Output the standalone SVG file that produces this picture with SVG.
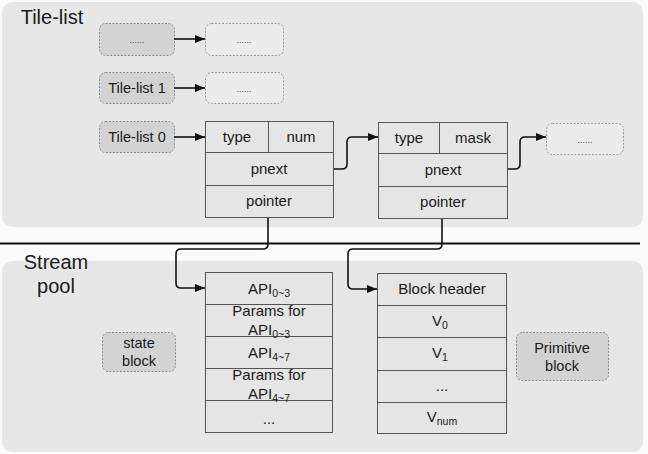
<svg xmlns="http://www.w3.org/2000/svg" width="648" height="454" viewBox="0 0 648 454">
<style>
text{font-family:"Liberation Sans",Arial,sans-serif;fill:#1a1a1a;text-anchor:middle}
.t{font-size:15px}
.n{font-size:14.5px}
.d{font-size:9px;fill:#444}
.sub{font-size:10.5px}
.title{font-size:20px}
.panel{fill:#e7e7e7}
.gnode{fill:#d3d3d3;stroke:#8a8a8a;stroke-width:1;stroke-dasharray:2 1.5}
.wnode{fill:#ececec;stroke:#9a9a9a;stroke-width:1;stroke-dasharray:2 1.5}
.cell{fill:#e5e5e5;stroke:#555;stroke-width:1}
.line{fill:none;stroke:#555;stroke-width:1}
.conn{fill:none;stroke:#111;stroke-width:1.6}
</style>
<defs>
<marker id="ah" markerWidth="10" markerHeight="8" refX="10" refY="4" orient="auto" markerUnits="userSpaceOnUse">
<path d="M0,0 L10,4 L0,8 z" fill="#111"/>
</marker>
</defs>
<rect width="648" height="454" fill="#fbfbfb"/>
<g id="tile-list-panel">
<rect class="panel" x="2" y="2" width="641" height="225" rx="10"/>
<text class="title" x="52" y="24">Tile-list</text>
</g>
<g id="stream-pool-panel">
<rect class="panel" x="2" y="261" width="641" height="191" rx="10"/>
<text class="title" x="56" y="269">Stream</text>
<text class="title" x="56" y="293">pool</text>
</g>
<line x1="0" y1="243.5" x2="640" y2="243.5" stroke="#111" stroke-width="2"/>
<g id="n-dots-gray">
<rect class="gnode" x="99.5" y="23.5" width="75" height="32" rx="6"/>
<text class="d" x="137" y="43">......</text>
</g>
<g id="n-dots-1">
<rect class="wnode" x="205.5" y="23.5" width="78" height="32" rx="6"/>
<text class="d" x="244" y="43">......</text>
</g>
<g id="tile-list-1">
<rect class="gnode" x="99.5" y="72.5" width="75" height="31" rx="6"/>
<text class="n" x="137" y="93">Tile-list 1</text>
</g>
<g id="n-dots-2">
<rect class="wnode" x="205.5" y="72.5" width="78" height="31" rx="6"/>
<text class="d" x="244" y="92">......</text>
</g>
<g id="tile-list-0">
<rect class="gnode" x="99.5" y="121.5" width="75" height="31" rx="6"/>
<text class="n" x="137" y="142">Tile-list 0</text>
</g>
<g id="table-1">
<rect class="cell" x="205.5" y="121.5" width="128" height="96"/>
<line class="line" x1="205.5" y1="152.5" x2="333.5" y2="152.5"/>
<line class="line" x1="205.5" y1="185.5" x2="333.5" y2="185.5"/>
<line class="line" x1="268.5" y1="121.5" x2="268.5" y2="152.5"/>
<text class="t" x="237" y="142">type</text>
<text class="t" x="301" y="142">num</text>
<text class="t" x="269" y="174">pnext</text>
<text class="t" x="269" y="206">pointer</text>
</g>
<g id="table-2">
<rect class="cell" x="378.5" y="122.5" width="129" height="96"/>
<line class="line" x1="378.5" y1="153.5" x2="507.5" y2="153.5"/>
<line class="line" x1="378.5" y1="186.5" x2="507.5" y2="186.5"/>
<line class="line" x1="439.5" y1="122.5" x2="439.5" y2="153.5"/>
<text class="t" x="409" y="143">type</text>
<text class="t" x="473" y="143">mask</text>
<text class="t" x="443" y="175">pnext</text>
<text class="t" x="443" y="207">pointer</text>
</g>
<g id="n-dots-3">
<rect class="wnode" x="546.5" y="123.5" width="77" height="31" rx="6"/>
<text class="d" x="585" y="143">......</text>
</g>
<g id="table-api">
<rect class="cell" x="205.5" y="272.5" width="127" height="160"/>
<line class="line" x1="205.5" y1="304.5" x2="332.5" y2="304.5"/>
<line class="line" x1="205.5" y1="336.5" x2="332.5" y2="336.5"/>
<line class="line" x1="205.5" y1="368.5" x2="332.5" y2="368.5"/>
<line class="line" x1="205.5" y1="400.5" x2="332.5" y2="400.5"/>
<text class="t" x="269" y="294">API<tspan class="sub" dy="3">0~3</tspan></text>
<text class="t" x="269" y="316">Params for</text>
<text class="t" x="269" y="335">API<tspan class="sub" dy="3">0~3</tspan></text>
<text class="t" x="269" y="358">API<tspan class="sub" dy="3">4~7</tspan></text>
<text class="t" x="269" y="380">Params for</text>
<text class="t" x="269" y="399">API<tspan class="sub" dy="3">4~7</tspan></text>
<text class="t" x="269" y="424" font-size="10">...</text>
</g>
<g id="state-block">
<rect class="gnode" x="102.5" y="332.5" width="73" height="39" rx="6"/>
<text class="n" x="139" y="348">state</text>
<text class="n" x="139" y="366">block</text>
</g>
<g id="table-prim">
<rect class="cell" x="377.5" y="273.5" width="129" height="160"/>
<line class="line" x1="377.5" y1="305.5" x2="506.5" y2="305.5"/>
<line class="line" x1="377.5" y1="337.5" x2="506.5" y2="337.5"/>
<line class="line" x1="377.5" y1="370.5" x2="506.5" y2="370.5"/>
<line class="line" x1="377.5" y1="402.5" x2="506.5" y2="402.5"/>
<text class="t" x="442" y="294">Block header</text>
<text class="t" x="440" y="326">V<tspan class="sub" dy="3">0</tspan></text>
<text class="t" x="440" y="358">V<tspan class="sub" dy="3">1</tspan></text>
<text class="t" x="442" y="391" font-size="10">...</text>
<text class="t" x="442" y="422">V<tspan class="sub" dy="3">num</tspan></text>
</g>
<g id="primitive-block">
<rect class="gnode" x="516.5" y="332.5" width="92" height="48" rx="6"/>
<text class="n" x="562" y="353">Primitive</text>
<text class="n" x="562" y="371">block</text>
</g>
<g id="connectors">
<path class="conn" d="M174,39 H205" marker-end="url(#ah)"/>
<path class="conn" d="M174,88 H205" marker-end="url(#ah)"/>
<path class="conn" d="M174,137 H205" marker-end="url(#ah)"/>
<path class="conn" d="M334,169 H342 Q347,169 347,164 V142 Q347,137 352,137 H378" marker-end="url(#ah)"/>
<path class="conn" d="M508,169 H515 Q520,169 520,164 V142 Q520,137 525,137 H546" marker-end="url(#ah)"/>
<path class="conn" d="M268,218 V244 Q268,249 263,249 H181 Q176,249 176,254 V283 Q176,288 181,288 H205" marker-end="url(#ah)"/>
<path class="conn" d="M442,219 V244 Q442,249 437,249 H353 Q348,249 348,254 V284 Q348,289 353,289 H377" marker-end="url(#ah)"/>
</g>
</svg>
